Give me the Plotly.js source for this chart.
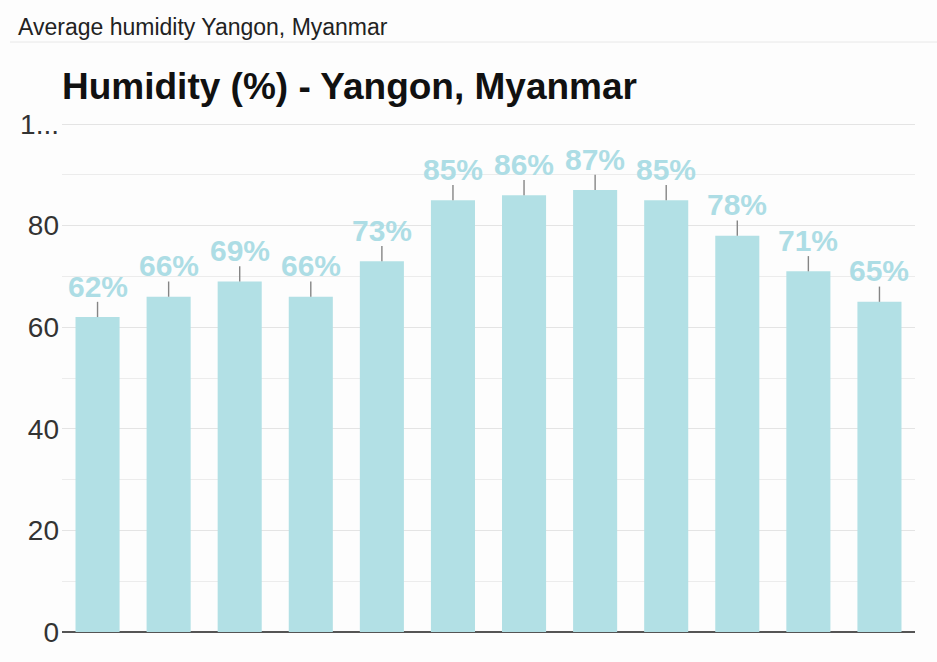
<!DOCTYPE html>
<html>
<head>
<meta charset="utf-8">
<script src="https://cdn.plot.ly/plotly-3.0.1.min.js"></script>
<style>
html,body{margin:0;padding:0;background:#fdfdfd;}
#chart{width:937px;height:662px;}
</style>
</head>
<body>
<div id="chart"></div>
<script>
var months = ["Jan","Feb","Mar","Apr","May","Jun","Jul","Aug","Sep","Oct","Nov","Dec"];
var humidity = [62,66,69,66,73,85,86,87,85,78,71,65];
var labels = ["62%","66%","69%","66%","73%","85%","86%","87%","85%","78%","71%","65%"];
var tickVals = [0,20,40,60,80,100];
var tickText = ["0","20","40","60","80","1..."];
var headerText = "Average humidity Yangon, Myanmar";
var titleText = "Humidity (%) - Yangon, Myanmar";

var barColor = "#b2e0e5";
var labelColor = "#addde5";

var trace = {
  type: "bar",
  x: months,
  y: humidity,
  marker: {color: barColor},
  width: 0.62,
  error_y: {type: "data", symmetric: false, array: humidity.map(function(){return 3;}), arrayminus: humidity.map(function(){return 0;}), color: "#858585", thickness: 1.4, width: 0},
  hoverinfo: "none"
};

var H = 510; // plot height in px
var annotations = months.map(function(m, i){
  return {x: m, y: humidity[i], xref: "x", yref: "y", text: labels[i], showarrow: false,
    yshift: 31, font: {family: "Liberation Sans, Arial, sans-serif", size: 30, color: labelColor, weight: "bold"}};
});
annotations.push({xref: "paper", yref: "paper", x: -62/853 + 16/853, y: 1 + (122-27)/H, xanchor: "left", yanchor: "middle",
  text: headerText, showarrow: false, font: {family: "Liberation Sans, Arial, sans-serif", size: 23, color: "#222"}});

var layout = {
  width: 937, height: 662,
  paper_bgcolor: "#fdfdfd", plot_bgcolor: "#fdfdfd",
  margin: {l: 62, r: 22, t: 122, b: 30},
  title: {text: "<b>" + titleText + "</b>", xref: "container", x: 62/937, xanchor: "left", yref: "container", y: 1 - 86/662, yanchor: "middle",
    font: {family: "Liberation Sans, Arial, sans-serif", size: 37, color: "#111"}},
  showlegend: false,
  bargap: 0.38,
  xaxis: {showticklabels: false, showgrid: false, zeroline: false, showline: false, ticks: ""},
  yaxis: {range: [0, 100.4], tickvals: tickVals, ticktext: tickText, showgrid: true, gridcolor: "#e4e4e4", gridwidth: 1,
    minor: {dtick: 10, showgrid: true, gridcolor: "#ececec", gridwidth: 1},
    zeroline: true, zerolinecolor: "#555", zerolinewidth: 1.5, showline: false, ticks: "", ticklabelstandoff: 2,
    tickfont: {family: "Liberation Sans, Arial, sans-serif", size: 28, color: "#333"}},
  shapes: [{type: "line", xref: "paper", yref: "paper", x0: -62/853 + 10/853, x1: 1 + 22/853, y0: 1 + (122-42)/H, y1: 1 + (122-42)/H,
    line: {color: "#e8e8e8", width: 1}}],
  annotations: annotations
};

Plotly.newPlot("chart", [trace], layout, {displayModeBar: false, staticPlot: true});
</script>
</body>
</html>
